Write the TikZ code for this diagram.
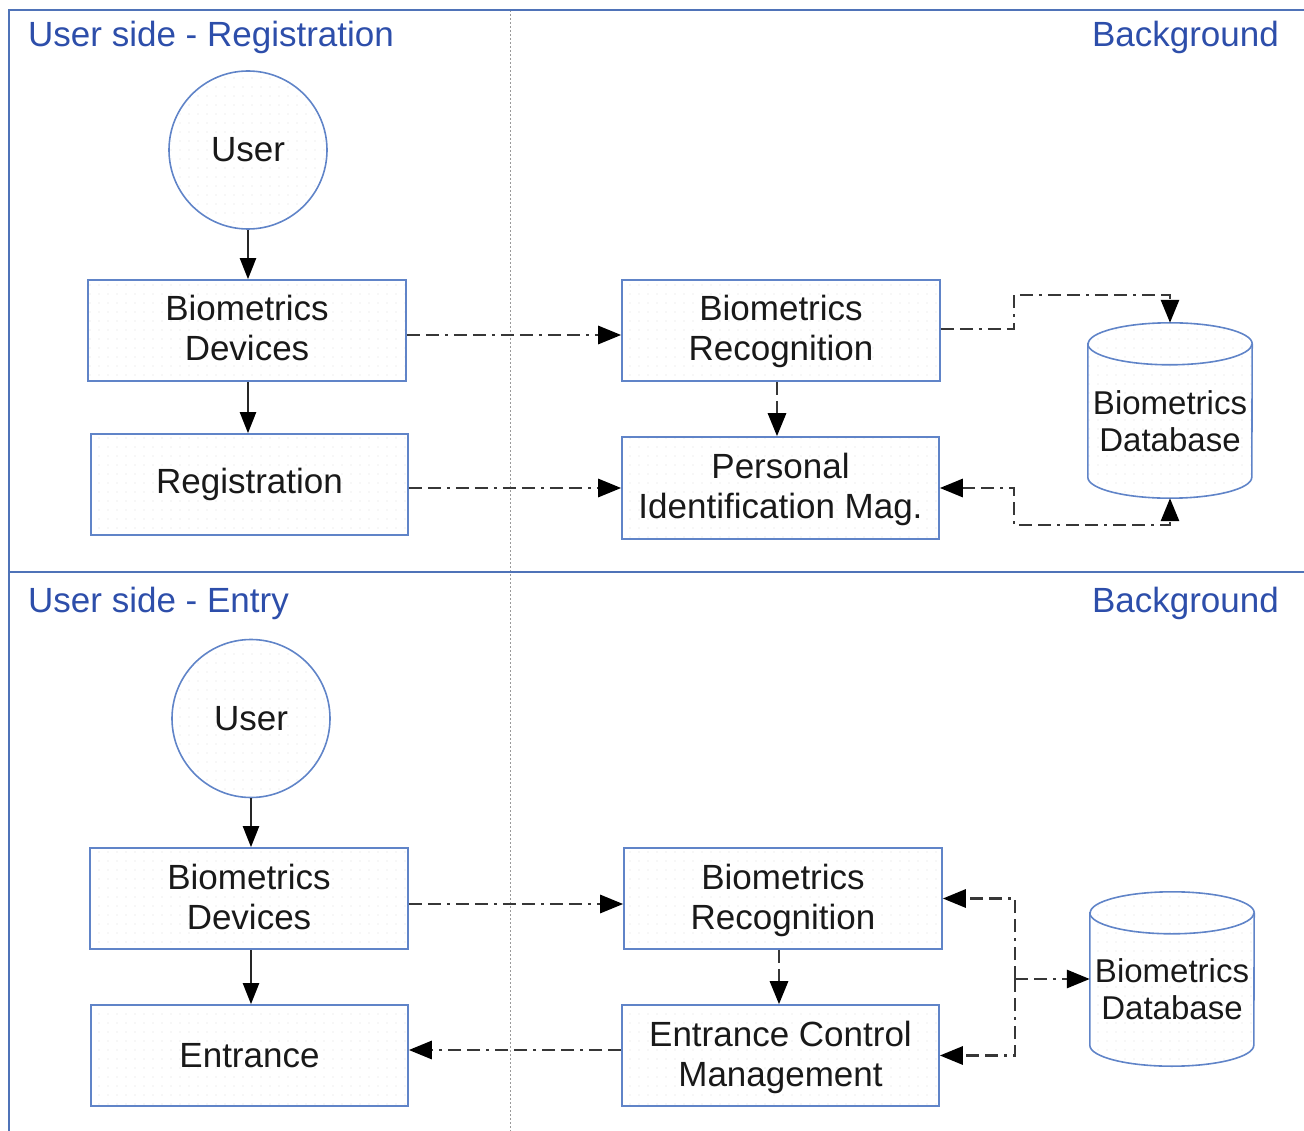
\documentclass[tikz,border=0pt]{standalone}
\usepackage{fontspec}
\setmainfont{Liberation Sans}
\usetikzlibrary{arrows.meta,patterns.meta}

\definecolor{frameblue}{RGB}{79,115,184}
\definecolor{titleblue}{RGB}{45,78,170}
\definecolor{boxblue}{RGB}{96,132,200}
\definecolor{linegray}{RGB}{55,55,55}

\tikzset{
  bigtext/.style={font=\fontsize{35}{40}\selectfont},
  dotfill/.style={pattern={Dots[distance=9pt,radius=0.55pt]},pattern color=black!13},
  block/.style={draw=boxblue,line width=1.6pt,dotfill,bigtext,align=center,
    inner sep=0pt,minimum width=318pt,minimum height=101pt,text=black!90},
  twoline/.style={text height=67pt,text depth=6pt},
  usercircle/.style={circle,draw=boxblue,line width=1.6pt,dotfill,bigtext,
    inner sep=0pt,minimum size=158pt,text=black!90},
  dbbody/.style={inner sep=0pt,minimum width=164pt,minimum height=175pt},
  dbtext/.style={font=\fontsize{33}{37}\selectfont,align=center,inner sep=0pt,text=black!90},
  dbline/.style={draw=boxblue,line width=1.6pt},
  heading/.style={text=titleblue,bigtext,inner sep=0pt},
  frameline/.style={draw=frameblue,line width=1.8pt},
  divider/.style={draw=gray!80,line width=1pt,dash pattern=on 2pt off 2pt},
  tip/.tip={Triangle[length=23pt,width=18pt,color=black]},
  flow/.style={draw=linegray,line width=2.9pt,
    dash pattern=on 13pt off 6pt on 13pt off 6pt on 3pt off 6pt},
  solidarrow/.style={draw=black!85,line width=2.2pt,-{Triangle[length=21pt,width=16pt,color=black]}}
}

% cylinder outline around a rectangular placeholder node
\newcommand\drawdbcyl[1]{%
  \path[dbline,dotfill] ([yshift=-21pt]#1.north west) -- ([yshift=21pt]#1.south west)
    arc[start angle=180,end angle=360,x radius=82pt,y radius=21pt]
    -- ([yshift=-21pt]#1.north east)
    arc[start angle=0,end angle=180,x radius=82pt,y radius=21pt] -- cycle;
  \draw[dbline] ([yshift=-21pt]#1.north west)
    arc[start angle=180,end angle=360,x radius=82pt,y radius=21pt];
}

\begin{document}
\begin{tikzpicture}[x=1pt,y=-1pt]
\useasboundingbox (0,0) rectangle (1304,1131);

% lanes
\draw[divider] (510,10) -- (510,1131);
\draw[frameline] (9,1131) -- (9,10) -- (1304,10);
\draw[frameline] (9,572) -- (1304,572);

\node[heading,anchor=base west] (h1) at (28,47) {User side - Registration};
\node[heading,anchor=base east] (h2) at (1279,47) {Background};
\node[heading,anchor=base west] (h3) at (28,612) {User side - Entry};
\node[heading,anchor=base east] (h4) at (1279,612) {Background};

% ---- registration ----
\node[usercircle] (user1) at (248,150) {User};
\node[block,twoline] (bd1) at (247,330.5) {Biometrics\\Devices};
\node[block,minimum width=317pt] (reg) at (249.5,484.5) {Registration};
\node[block,twoline] (br1) at (781,330.5) {Biometrics\\Recognition};
\node[block,twoline,minimum width=317pt,minimum height=102pt] (pim) at (780.5,488) {Personal\\Identification Mag.};
\node[dbbody] (db1) at (1170,410.5) {};
\drawdbcyl{db1}
\node[dbtext] (db1t) at (1170,421) {Biometrics\\Database};

\coordinate (j1) at (1014,295);
\coordinate (j2) at (1014,525);

\draw[solidarrow] (user1.south) -- (user1.south |- bd1.north);
\draw[solidarrow] (bd1.south -| user1.south) -- (reg.north -| user1.south);
\draw[flow,-tip] ([yshift=-4.5pt]bd1.east) -- ([yshift=-4.5pt]br1.west);
\draw[flow,-tip] (reg.east |- pim.west) -- (pim.west);
\draw[flow,-tip] ([xshift=-4pt]br1.south) -- ([xshift=-4pt]br1.south |- pim.north);
\draw[flow,-tip] ([yshift=1.5pt]br1.east) -| (j1) -| (db1.north);
\draw[flow,tip-tip] (pim.east) -| (j2) -| (db1.south);

% ---- entry ----
\node[usercircle] (user2) at (251,718.5) {User};
\node[block,twoline] (bd2) at (249,898.5) {Biometrics\\Devices};
\node[block,minimum width=317pt] (ent) at (249.5,1055.5) {Entrance};
\node[block,twoline] (br2) at (783,898.5) {Biometrics\\Recognition};
\node[block,twoline,minimum width=317pt] (ecm) at (780.5,1055.5) {Entrance Control\\Management};
\node[dbbody,minimum height=174pt] (db2) at (1172,979) {};
\drawdbcyl{db2}
\node[dbtext] (db2t) at (1172,989) {Biometrics\\Database};

\coordinate (j3) at (1015,979);

\draw[solidarrow] (user2.south) -- (user2.south |- bd2.north);
\draw[solidarrow] (bd2.south -| user2.south) -- (ent.north -| user2.south);
\draw[flow,-tip] ([yshift=-5.5pt]bd2.east) -- ([yshift=-5.5pt]br2.west);
\draw[flow,-tip] ([xshift=-4pt]br2.south) -- ([xshift=-4pt]br2.south |- ecm.north);
\draw[flow,-tip] ([yshift=5.5pt]ecm.west) -- ([yshift=5.5pt]ent.east);
\draw[flow,-tip] (j3) |- (br2.east);
\draw[flow,-tip] (j3) |- (ecm.east);
\draw[flow,-tip] (j3) -- (db2.west);
\end{tikzpicture}
\end{document}
